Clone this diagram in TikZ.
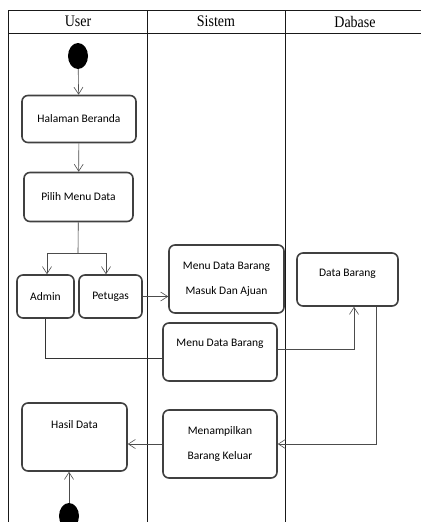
\documentclass[tikz,border=0pt]{standalone}
\usepackage{fontspec}
\setmainfont{Carlito}
\newfontfamily\headfont{Liberation Serif}
\usetikzlibrary{arrows.meta, positioning, shapes.geometric}

\begin{document}
\begin{tikzpicture}
  [x=1pt,y=-1pt,
   activity/.style={rectangle,rounded corners=6pt,draw=black!75,line width=1.6pt,
                    fill=white,align=center,inner sep=0pt,
                    font=\fontsize{11.5}{25}\selectfont},
   dot/.style={ellipse,fill=black,inner sep=0pt,minimum width=20pt,minimum height=26pt},
   flow/.style={draw=black!70,line width=0.6pt,-{Straight Barb[length=7pt,width=9pt]}},
   link/.style={draw=black!80,line width=0.6pt},
   lane/.style={draw=black!90,line width=0.8pt},
   header/.style={font=\headfont\fontsize{14}{16}\selectfont,yscale=1.15}]
   \useasboundingbox (0,0) rectangle (421,522);
   % swimlanes
   \draw[lane] (8,522) -- (8,10) -- (421,10);
   \draw[lane] (8,33) -- (421,33);
   \draw[lane] (147,10) -- (147,522);
   \draw[lane] (285,10) -- (285,522);
   \node[header] (user)   at (78,21.5)  {User};
   \node[header] (sistem) at (216,21.5) {Sistem};
   \node[header] (dbase)  at (355,21.5) {Dabase};
   % activities
   \node[dot]      (start)   at (78,56)       {};
   \node[activity,minimum width=114pt,minimum height=47pt] (halaman) at (79,119)    {Halaman Beranda};
   \node[activity,minimum width=109pt,minimum height=49pt] (pilih)   at (78.5,197)  {Pilih Menu Data};
   \node[activity,minimum width=57pt,minimum height=43pt]  (admin)   at (45.5,296.5) {Admin};
   \node[activity,minimum width=63pt,minimum height=43pt]  (petugas) at (110.5,296.5) {Petugas};
   \node[activity,minimum width=115pt,minimum height=68pt] (masuk)   at (226.5,279) {Menu Data Barang\\Masuk Dan Ajuan};
   \node[activity,minimum width=101pt,minimum height=53pt] (barang)  at (347.5,279.5) {Data Barang\\[-12pt]~};
   \node[activity,minimum width=114pt,minimum height=58pt] (menu)    at (220,352)   {Menu Data Barang\\[-6pt]~};
   \node[activity,minimum width=114pt,minimum height=68pt] (tampil)  at (220,444)   {Menampilkan\\Barang Keluar};
   \node[activity,minimum width=105pt,minimum height=68pt] (hasil)   at (74.5,437)  {Hasil Data\\~};
   \node[dot]      (end)     at (69,516)      {};
   \coordinate (fork) at (78,253);
   % flows
   \draw[flow] (start) -- (halaman);
   \draw[flow] (halaman) -- (pilih);
   \draw[link] (pilih) -- (fork);
   \draw[flow] (fork) -| ([xshift=1.5pt]admin.north);
   \draw[flow] (fork) -| ([xshift=-4.5pt]petugas.north);
   \draw[flow] (petugas.east) -- (petugas.east -| masuk.west);
   \draw[link] (admin.south) |- ([yshift=-6pt]menu.west);
   \draw[flow] ([yshift=3pt]menu.east) -| ([xshift=6.5pt]barang.south);
   \draw[flow] ([xshift=29pt]barang.south) |- (tampil.east);
   \draw[flow] (tampil.west) -- (tampil.west -| hasil.east);
   \draw[flow] (end) -- (end |- hasil.south);
\end{tikzpicture}
\end{document}
